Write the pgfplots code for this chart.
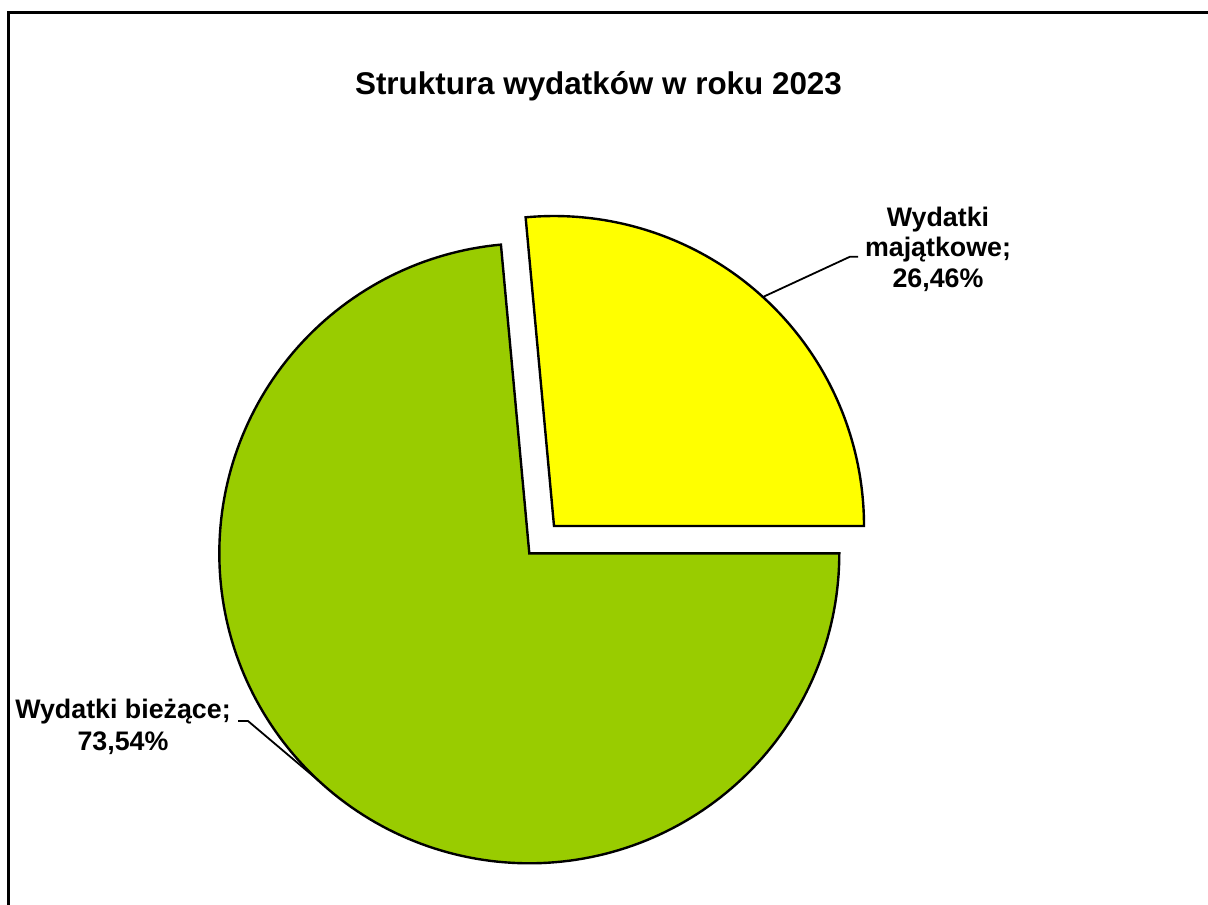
\documentclass[border=0pt]{standalone}
\usepackage{pgfplots}
\pgfplotsset{compat=1.18}
\usepackage{fontspec}
\setmainfont{Liberation Sans}
\definecolor{pieyellow}{HTML}{FFFF00}
\definecolor{piegreen}{HTML}{99CC00}
% data (percent)
\def\valMaj{26.46}
\def\valBiez{73.54}
\pgfmathsetmacro{\angMaj}{3.6*\valMaj}
\begin{document}
\begin{tikzpicture}
\begin{axis}[
  scale only axis, width=604pt, height=452pt,
  xmin=0, xmax=1208, ymin=0, ymax=904, y dir=reverse,
  hide axis, clip=false,
]
% frame
\draw[line width=1.3pt] (axis cs:8.5,930) -- (axis cs:8.5,12.7) -- (axis cs:1230,12.7);
% green slice (not exploded)
\addplot[fill=piegreen, draw=black, line width=1.2pt, line join=miter, domain=\angMaj:360, samples=200, variable=\t]
  ({529.3+310*cos(\t)}, {553.3-310*sin(\t)}) -- (axis cs:529.3,553.3) -- cycle;
% yellow slice (exploded)
\addplot[fill=pieyellow, draw=black, line width=1.2pt, line join=miter, domain=0:\angMaj, samples=100, variable=\t]
  ({554+310*cos(\t)}, {526-310*sin(\t)}) -- (axis cs:554,526) -- cycle;
% leader lines
\draw[line width=0.9pt] (axis cs:858,256.7) -- (axis cs:850,256.7) -- (axis cs:764,296.5);
\draw[line width=0.9pt] (axis cs:238,721) -- (axis cs:248,721) -- (axis cs:319,781);
% title
\node[anchor=base, font=\fontsize{15.7pt}{18pt}\selectfont\bfseries] at (axis cs:598.5,95) {Struktura wydatków w roku 2023};
% labels
\node[anchor=base, font=\fontsize{13.4pt}{15pt}\selectfont\bfseries] at (axis cs:938,226.7) {Wydatki};
\node[anchor=base, font=\fontsize{13.4pt}{15pt}\selectfont\bfseries] at (axis cs:938,256.5) {majątkowe;};
\node[anchor=base, font=\fontsize{13.4pt}{15pt}\selectfont\bfseries] at (axis cs:938,287.3) {26,46\%};
\node[anchor=base, font=\fontsize{13.4pt}{15pt}\selectfont\bfseries] at (axis cs:123,718.3) {Wydatki bieżące;};
\node[anchor=base, font=\fontsize{13.4pt}{15pt}\selectfont\bfseries] at (axis cs:123,750) {73,54\%};
\end{axis}
\pgfresetboundingbox
\path[use as bounding box] (0,0) rectangle (604pt,452pt);
\end{tikzpicture}
\end{document}
